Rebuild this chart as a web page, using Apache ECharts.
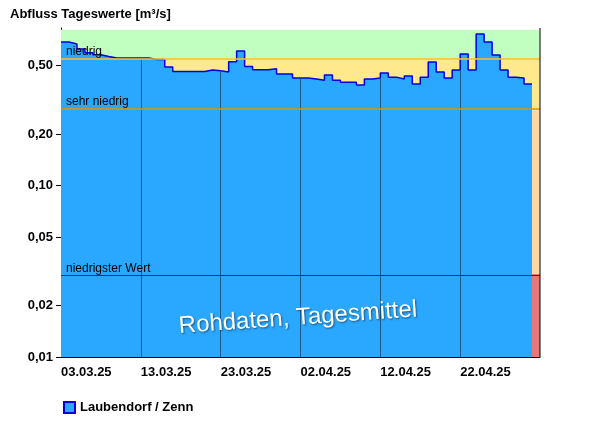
<!DOCTYPE html>
<html><head><meta charset="utf-8">
<script src="https://cdn.jsdelivr.net/npm/echarts@6/dist/echarts.min.js"></script>
<style>html,body{margin:0;padding:0;background:#fff}#c{width:600px;height:426px}</style>
</head><body><div id="c"></div>
<script>
const startDate = '2025-03-03';
const flowValues = [0.687,0.669,0.625,0.595,0.579,0.566,0.554,0.554,0.554,0.554,0.554,0.544,0.544,0.491,0.463,0.463,0.463,0.463,0.472,0.468,0.459,0.527,0.609,0.495,0.474,0.474,0.480,0.447,0.447,0.424,
0.424,0.418,0.412,0.441,0.412,0.401,0.401,0.386,0.418,0.424,0.453,0.429,0.418,0.435,0.391,0.429,0.525,0.459,0.424,0.472,0.585,0.472,0.765,0.687,0.577,0.472,0.429,0.424,0.391];
const yTicks = [0.01,0.02,0.05,0.10,0.20,0.50];
const xTicks = [0,10,20,30,40,50];
const thresholds = {top:0.811, niedrig:0.547, sehrNiedrig:0.275, niedrigster:0.0305};
const FONT = '"Liberation Sans", Arial, sans-serif';

const lineData = flowValues.map((v,i)=>[i,v]);
lineData.push([flowValues.length, flowValues[flowValues.length-1]]);
function fmtDate(d){const t=new Date(startDate+'T12:00:00Z');t.setUTCDate(t.getUTCDate()+d);
 const p=n=>String(n).padStart(2,'0');return p(t.getUTCDate())+'.'+p(t.getUTCMonth()+1)+'.'+String(t.getUTCFullYear()).slice(2);}
const gridLines = xTicks.slice(1).map(x=>[{coord:[x,0.01]},{coord:[x,flowValues[x-1]]}]);
const chart = echarts.init(document.getElementById('c'));
chart.setOption({
 animation:false,
 title:{text:'Abfluss Tageswerte [m³/s]',left:5,top:3,textStyle:{fontSize:13,fontWeight:'bold',color:'#000',fontFamily:FONT}},
 legend:{left:58,top:396,itemWidth:11,itemHeight:11,icon:'rect',textStyle:{fontSize:13,fontWeight:'bold',color:'#000',fontFamily:FONT},data:['Laubendorf / Zenn']},
 grid:{left:61,right:60,top:28,bottom:69},
 xAxis:{type:'value',min:0,max:60,interval:10,
  axisLine:{lineStyle:{color:'#000'}},axisTick:{show:false},splitLine:{show:false},
  axisLabel:{formatter:v=>v>=60?'':fmtDate(v),align:'left',margin:9,color:'#000',fontSize:13,fontWeight:'bold',fontFamily:FONT}},
 yAxis:{type:'log',min:0.01,max:0.83,logBase:10,
  axisLine:{show:true,lineStyle:{color:'#000'}},axisTick:{show:true,customValues:yTicks,length:5,inside:false,lineStyle:{color:'#000'}},splitLine:{show:false},
  axisLabel:{customValues:yTicks,formatter:v=>v.toFixed(2).replace('.',','),color:'#000',fontSize:13,fontWeight:'bold',fontFamily:FONT,margin:8}},
 graphic:[
  {type:'line',shape:{x1:540,y1:28,x2:540,y2:357},style:{stroke:'#000',lineWidth:1},z:100},
  {type:'text',x:298,y:318,rotation:0.07,z:100,style:{text:'Rohdaten, Tagesmittel',font:'24px "Liberation Sans", Arial',fill:'#fff',align:'center',verticalAlign:'middle',textShadowColor:'rgba(0,0,0,0.5)',textShadowBlur:2,textShadowOffsetX:1,textShadowOffsetY:1}}
 ],
 series:[
  {type:'line',name:'bands',data:[],z:1,silent:true,
   markArea:{silent:true,data:[
    [{coord:[0,thresholds.niedrig],itemStyle:{color:'#c0ffc0'}},{coord:[60,thresholds.top]}],
    [{coord:[0,thresholds.sehrNiedrig],itemStyle:{color:'#ffe98c'}},{coord:[60,thresholds.niedrig]}],
    [{coord:[0,thresholds.niedrigster],itemStyle:{color:'#ffd8a0'}},{coord:[60,thresholds.sehrNiedrig]}],
    [{coord:[0,0.01],itemStyle:{color:'#e87878'}},{coord:[60,thresholds.niedrigster]}]
   ]}},
  {type:'line',name:'Laubendorf / Zenn',data:lineData,step:'end',symbol:'none',z:3,
   lineStyle:{color:'#0000e0',width:1.5},itemStyle:{color:'#2aa8ff',borderColor:'#0000e0',borderWidth:1},
   areaStyle:{color:'#2aa8ff',opacity:1,origin:'start'},
   markLine:{silent:true,symbol:'none',data:gridLines,lineStyle:{color:'#1a5a8a',width:1,type:'solid'},label:{show:false}}},
  {type:'line',name:'thr',data:[[0,0.5]],z:10,symbol:'none',lineStyle:{opacity:0},
   markLine:{silent:true,symbol:'none',z:10,data:[
    {yAxis:thresholds.niedrig,lineStyle:{color:'#ffc020',width:1.5,type:'solid',opacity:1},label:{formatter:'niedrig'}},
    {yAxis:thresholds.sehrNiedrig,lineStyle:{color:'#e89000',width:1.5,type:'solid',opacity:1},label:{formatter:'sehr niedrig'}},
    {yAxis:thresholds.niedrigster,lineStyle:{color:'#333',width:1,type:'solid',opacity:1},label:{formatter:'niedrigster Wert'}}
   ],label:{position:'insideStartTop',distance:[5,1],color:'#000',fontSize:12,fontFamily:FONT}}}
 ]
});
</script></body></html>
